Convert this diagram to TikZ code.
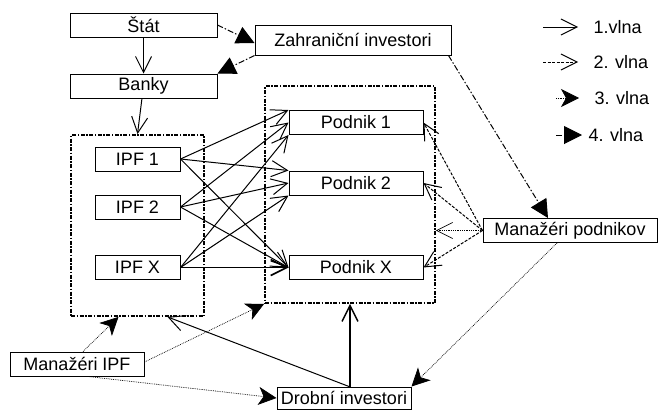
\documentclass[tikz,border=0pt]{standalone}
\usepackage{fontspec}
\setmainfont{Liberation Sans}
\usetikzlibrary{arrows.meta,calc}
\tikzset{
	ipf diagram/.style={
		x=1pt,y=-1pt, % pixel grid, y down
		font=\fontsize{18}{21}\selectfont,
		line width=1pt
	},
	box/.style={
		rectangle,
		draw,
		fill=white,
		inner sep=0pt,
		minimum height=24pt
	},
	group frame/.style={
		rectangle,
		draw,
		line width=1.8pt,
		dash pattern=on 4pt off 1.5pt on 1.5pt off 1.5pt,
		inner sep=0pt
	},
	wave one/.style={
		-{Straight Barb[length=16pt,width=16pt]}
	},
	wave two/.style={
		-{Straight Barb[length=16pt,width=16pt]},
		dash pattern=on 3pt off 1.5pt
	},
	wave three/.style={
		-{Stealth[length=18pt,width=18pt,inset=5pt]},
		line width=0.7pt,
		dash pattern=on 0.8pt off 1pt
	},
	dotted open/.style={
		-{Straight Barb[length=16pt,width=16pt]},
		line width=0.7pt,
		dash pattern=on 0.8pt off 1pt
	},
	wave four/.style={
		-{Triangle[length=18pt,width=18pt]},
		dash pattern=on 6pt off 2pt on 1.5pt off 2pt
	},
	legend text/.style={
		anchor=west,
		inner sep=0pt
	}
}

\begin{document}
\begin{tikzpicture}[ipf diagram]
	\useasboundingbox (0,0) rectangle (661,410);
	% frames
	\node[group frame, minimum width=133pt, minimum height=181pt] (ipfgroup) at (137.5,225.5) {};
	\node[group frame, minimum width=170pt, minimum height=217pt] (podnikgroup) at (350,194.5) {};
	% boxes
	\node[box, minimum width=147pt] (stat) at (143.5,25) {Štát};
	\node[box, minimum width=196pt, minimum height=30pt] (zahr) at (353,40) {Zahraniční investori};
	\node[box, minimum width=147pt] (banky) at (143.5,86) {Banky};
	\node[box, minimum width=85pt] (ipf1) at (137.5,159) {IPF 1};
	\node[box, minimum width=85pt] (ipf2) at (137.5,207) {IPF 2};
	\node[box, minimum width=85pt] (ipfx) at (137.5,267.5) {IPF X};
	\node[box, minimum width=134pt] (podnik1) at (356,122.5) {Podnik 1};
	\node[box, minimum width=134pt] (podnik2) at (356,183) {Podnik 2};
	\node[box, minimum width=134pt] (podnikx) at (356,267.5) {Podnik X};
	\node[box, minimum width=174pt] (manpodnik) at (570,230.5) {Manažéri podnikov};
	\node[box, minimum width=134pt] (manipf) at (77,364) {Manažéri IPF};
	\node[box, minimum width=134pt, minimum height=22pt] (drobni) at (344,398) {Drobní investori};
	% legend
	\coordinate (leg1a) at (543,27);
	\coordinate (leg1b) at (578,27);
	\coordinate (leg2a) at (543,62);
	\coordinate (leg2b) at (578,62);
	\coordinate (leg3a) at (556,98);
	\coordinate (leg3b) at (579,98);
	\coordinate (leg4a) at (556,135);
	\coordinate (leg4b) at (582,135);
	\node[legend text] (leg1) at (593,27) {1.vlna};
	\node[legend text] (leg2) at (593,62) {2. vlna};
	\node[legend text] (leg3) at (594,98) {3. vlna};
	\node[legend text] (leg4) at (588,135) {4. vlna};
	\draw[wave one] (leg1a) -- (leg1b);
	\draw[wave two] (leg2a) -- (leg2b);
	\draw[wave three] (leg3a) -- (leg3b);
	\draw[wave four] (leg4a) -- (leg4b);
	% 1. vlna
	\draw[wave one] (stat) -- (banky);
	\draw[wave one] (banky) -- (ipfgroup.north);
	\draw[wave one] (ipf1.east) -- (podnik1.north west);
	\draw[wave one] (ipf1.east) -- (podnik2.north west);
	\draw[wave one] (ipf1.east) -- (podnikx.west);
	\draw[wave one] (ipf2.east) -- (podnik1.west);
	\draw[wave one] (ipf2.east) -- (podnik2.west);
	\draw[wave one] (ipf2.east) -- (podnikx.west);
	\draw[wave one] (ipfx.east) -- (podnik1.south west);
	\draw[wave one] (ipfx.east) -- (podnik2.south west);
	\draw[wave one, line width=1.6pt] (ipfx.east) -- (podnikx.west);
	\draw[wave one] ([xshift=5pt]drobni.north) -- ([xshift=30pt]ipfgroup.south);
	\draw[wave one, line width=1.4pt] (podnikgroup.south |- drobni.north) -- (podnikgroup.south);
	% 2. vlna
	\draw[wave two] (manpodnik.west) -- (podnik1.east);
	\draw[wave two] (manpodnik.west) -- (podnik2.east);
	\draw[wave two] (manpodnik.west) -- (podnikx.east);
	% 3. vlna
	\coordinate (podnikedge) at (podnikgroup.east |- manpodnik.west);
	\draw[dotted open] (manpodnik.west) -- (podnikedge);
	\draw[wave three] ([xshift=-13pt]manpodnik.south) -- (drobni.north east);
	\draw[wave three] ([xshift=6pt]manipf.north) -- ([xshift=-19pt]ipfgroup.south);
	\draw[wave three] ([yshift=2pt]manipf.east) -- (podnikgroup.south west);
	\draw[wave three] ([xshift=11pt]manipf.south) -- (drobni.west);
	% 4. vlna
	\draw[wave four] (stat.east) -- ([yshift=-3pt]zahr.west);
	\draw[wave four] (zahr.south west) -- (banky.north east);
	\draw[wave four] ([xshift=-3pt]zahr.south east) -- ([xshift=-22pt]manpodnik.north);
\end{tikzpicture}
\end{document}
